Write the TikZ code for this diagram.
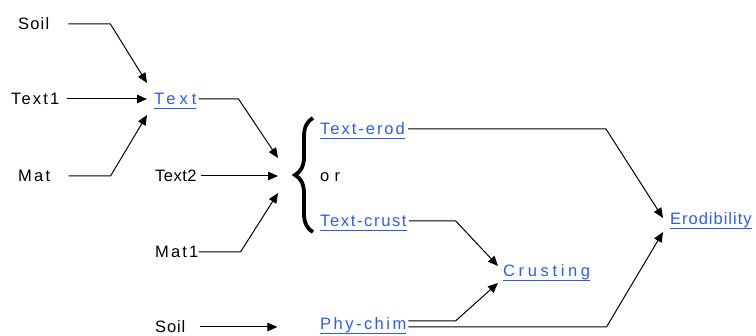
\documentclass[tikz,border=0pt]{standalone}
\usepackage{fontspec}
\setmainfont{Liberation Sans}
\usepackage{xcolor}
\usepackage{tikz}
\usetikzlibrary{arrows.meta,decorations.pathreplacing}
\definecolor{linkblue}{RGB}{45,90,255}
\newsavebox\lnkbox
\newcommand\trk[2]{{\addfontfeature{LetterSpace=#1}#2}}
\newcommand\lnk[2]{\sbox\lnkbox{\color{linkblue}\trk{#1}{#2}}\usebox\lnkbox\llap{\color{linkblue}\rule[-4.5pt]{\wd\lnkbox}{1pt}}}

\begin{document}
\begin{tikzpicture}[
    x=1pt, y=-1pt,
    every node/.style={font=\fontsize{16.5}{19}\selectfont, inner sep=0pt, text height=12pt, text depth=0pt, anchor=base west},
    arrow/.style={-{Triangle[length=10pt,width=8.5pt]}, line width=1pt, black},
    brace/.style={decorate, decoration={brace, amplitude=18pt}, line width=3.8pt},
]
\useasboundingbox (0,0) rectangle (756,336);
% inputs of Text
\node (soilA) at (18,30) {\trk{7}{Soil}};
\node (textA) at (11,105) {\trk{13}{Text1}};
\node (mat) at (18,182) {\trk{14}{Mat}};
\node (text) at (154,105) {\lnk{24}{Text}};
\coordinate (merge) at (147,99);
% inputs of the choice
\node (textB) at (155,182) {\trk{3}{Text2}};
\node (matB) at (155,258) {\trk{13}{Mat1}};
\node (soilB) at (155,333) {\trk{5}{Soil}};
\coordinate (fork) at (278,176);
\node (erod) at (320,135) {\lnk{12}{Text-erod}};
\node (orn) at (320,182) {\trk{32}{or}};
\node (crust) at (320,227) {\lnk{10}{Text-crust}};
\node (phy) at (320,330) {\lnk{15}{Phy-chim}};
\node (crusting) at (503,277) {\lnk{22}{Crusting}};
\node (erodib) at (670,225) {\lnk{6}{Erodibility}};
\draw[brace] (313,232) -- (313,118);

\draw[arrow] ([xshift=19pt]soilA.east) -- ++(42,0) -- ([yshift=16pt]merge);
\draw[arrow] ([xshift=8pt]textA.east) -- (merge);
\draw[arrow] ([xshift=18pt]mat.east) -- ++(42,0) -- ([yshift=-16pt]merge);
\draw[arrow] ([xshift=2pt]text.east) -- ++(40,0) -- ([yshift=18pt]fork);
\draw[arrow] ([xshift=4pt]textB.east) -- (fork);
\draw[arrow] (matB.east) -- ++(42,0) -- ([yshift=-17pt]fork);
\draw[arrow] ([xshift=15pt]soilB.east) -- ++(77,0);
\draw[arrow] ([xshift=3pt]erod.east) -- ++(198,0) -- ([xshift=-7pt,yshift=1pt]erodib.west);
\draw[arrow] ([xshift=2pt]crust.east) -- ++(47,0) -- ([xshift=-5pt,yshift=5pt]crusting.west);
\draw[arrow] ([xshift=2pt,yshift=3pt]phy.east) -- ++(47,0) -- ([xshift=-5pt,yshift=-12pt]crusting.west);
\draw[arrow] ([xshift=2pt,yshift=-3pt]phy.east) -- ++(198,0) -- ([xshift=-7pt,yshift=-13pt]erodib.west);
\end{tikzpicture}
\end{document}
